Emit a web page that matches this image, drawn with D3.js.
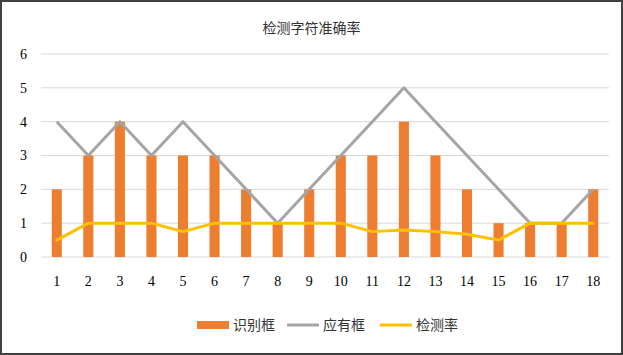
<!DOCTYPE html>
<html lang="zh">
<head>
<meta charset="UTF-8">
<title>检测字符准确率</title>
<script src="https://cdn.jsdelivr.net/npm/d3@7/dist/d3.min.js"></script>
<style>
    body { margin: 0; background: #fff; }
    svg { display: block; }
</style>
</head>
<body>
<script>
    // 数据
    const categories = ['1','2','3','4','5','6','7','8','9','10','11','12','13','14','15','16','17','18'];
    const recognized = [2, 3, 4, 3, 3, 3, 2, 1, 2, 3, 3, 4, 3, 2, 1, 1, 1, 2];      // 识别框
    const expected   = [4, 3, 4, 3, 4, 3, 2, 1, 2, 3, 4, 5, 4, 3, 2, 1, 1, 2];      // 应有框
    const detectRate = [0.5, 1, 1, 1, 0.75, 1, 1, 1, 1, 1, 0.75, 0.8, 0.75, 0.67, 0.5, 1, 1, 1]; // 检测率
    const yTicks = [0, 1, 2, 3, 4, 5, 6];

    const width = 623, height = 355;
    const margin = {left: 41, right: 14, top: 54, bottom: 98};

    const svg = d3.select('body').append('svg')
        .attr('width', width)
        .attr('height', height);

    // 外框
    svg.append('rect')
        .attr('x', 1).attr('y', 1)
        .attr('width', width - 2).attr('height', height - 2)
        .attr('fill', '#fff')
        .attr('stroke', '#404040')
        .attr('stroke-width', 2);

    const x = d3.scaleBand()
        .domain(categories)
        .range([margin.left, width - margin.right])
        .paddingInner(0.68)
        .paddingOuter(0.34);

    const xc = d => x(d) + x.bandwidth() / 2;

    const y = d3.scaleLinear()
        .domain([0, 6])
        .range([height - margin.bottom, margin.top]);

    // 网格线
    svg.append('g')
        .selectAll('line')
        .data(yTicks)
        .enter().append('line')
        .attr('x1', margin.left)
        .attr('x2', width - margin.right)
        .attr('y1', d => y(d))
        .attr('y2', d => y(d))
        .attr('stroke', '#d9d9d9')
        .attr('stroke-width', 1);

    // y 轴标签
    svg.append('g')
        .selectAll('text')
        .data(yTicks)
        .enter().append('text')
        .attr('x', 27)
        .attr('y', d => y(d))
        .attr('dy', '0.35em')
        .attr('text-anchor', 'end')
        .style('font', '14px "Liberation Serif", serif')
        .attr('fill', '#000')
        .text(d => d);

    // x 轴标签
    svg.append('g')
        .selectAll('text')
        .data(categories)
        .enter().append('text')
        .attr('x', d => xc(d))
        .attr('y', 286)
        .attr('text-anchor', 'middle')
        .style('font', '14px "Liberation Serif", serif')
        .attr('fill', '#000')
        .text(d => d);

    // 柱子
    svg.append('g')
        .selectAll('rect')
        .data(recognized)
        .enter().append('rect')
        .attr('x', (d, i) => x(categories[i]))
        .attr('y', d => y(d))
        .attr('width', x.bandwidth())
        .attr('height', d => y(0) - y(d))
        .attr('fill', '#ed7d31');

    const line = d3.line()
        .x((d, i) => xc(categories[i]))
        .y(d => y(d));

    svg.append('path')
        .datum(expected)
        .attr('d', line)
        .attr('fill', 'none')
        .attr('stroke', '#a5a5a5')
        .attr('stroke-width', 3)
        .attr('stroke-linejoin', 'round');

    svg.append('path')
        .datum(detectRate)
        .attr('d', line)
        .attr('fill', 'none')
        .attr('stroke', '#ffc000')
        .attr('stroke-width', 3)
        .attr('stroke-linejoin', 'round')
        .attr('stroke-linecap', 'round');

    // 标题
    svg.append('text')
        .attr('x', width / 2)
        .attr('y', 33)
        .attr('text-anchor', 'middle')
        .style('font', '14px "Noto Sans CJK SC", sans-serif')
        .attr('fill', '#333')
        .text('检测字符准确率');

    // 图例
    const legend = [
        {name: '识别框', type: 'rect', color: '#ed7d31', x: 197},
        {name: '应有框', type: 'line', color: '#a5a5a5', x: 287},
        {name: '检测率', type: 'line', color: '#ffc000', x: 380}
    ];
    const lg = svg.append('g')
        .selectAll('g')
        .data(legend)
        .enter().append('g')
        .attr('transform', d => `translate(${d.x}, 325)`);

    lg.filter(d => d.type === 'rect').append('rect')
        .attr('x', 0).attr('y', -4)
        .attr('width', 32).attr('height', 8)
        .attr('fill', d => d.color);

    lg.filter(d => d.type === 'line').append('line')
        .attr('x1', 0).attr('x2', 32)
        .attr('y1', 0).attr('y2', 0)
        .attr('stroke', d => d.color)
        .attr('stroke-width', 3);

    lg.append('text')
        .attr('x', 36)
        .attr('dy', '0.35em')
        .style('font', '14px "Noto Sans CJK SC", sans-serif')
        .attr('fill', '#333')
        .text(d => d.name);
</script>
</body>
</html>
